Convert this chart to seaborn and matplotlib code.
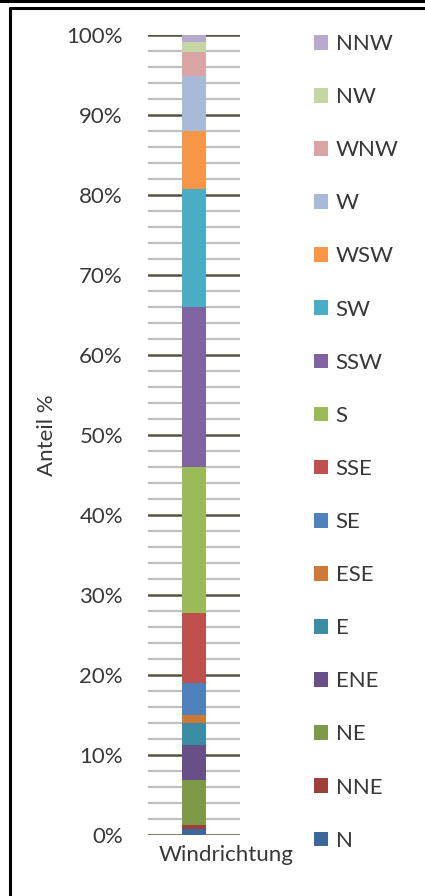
import matplotlib
matplotlib.use("Agg")
import matplotlib.pyplot as plt
import matplotlib.transforms as mtransforms
from matplotlib.patches import Patch
from matplotlib.lines import Line2D
import seaborn as sns
import numpy as np

# Anteile je Windrichtung (von unten nach oben gestapelt)
richtungen = ["N", "NNE", "NE", "ENE", "E", "ESE", "SE", "SSE",
              "S", "SSW", "SW", "WSW", "W", "WNW", "NW", "NNW"]
anteile = [0.7, 0.55, 5.65, 4.35, 2.7, 1.05, 3.95, 8.75,
           18.3, 20.0, 14.7, 7.3, 6.9, 3.0, 1.2, 0.9]
farben = ["#3C679A", "#9E3F3C", "#7E9A48", "#684F86", "#3A8DA3", "#CC7A36",
          "#4F81BD", "#C0504D", "#9BBB59", "#8064A2", "#4BACC6", "#F79646",
          "#A9B9D8", "#D9A5A4", "#C4D6A3", "#B7AACC"]
kategorie = "Windrichtung"
y_ticks = list(range(0, 101, 10))

sns.set_style("white")
plt.rcParams['font.family'] = ['Lato', 'DejaVu Sans']
fs = 16
txt = "#383838"

fig = plt.figure(figsize=(4.25, 8.96), dpi=100)
ax = fig.add_axes([148 / 425, 1 - 835 / 896, 92 / 425, 800 / 896])

# Stapelbalken
unten = 0.0
for r, a, c in zip(richtungen, anteile, farben):
    ax.bar(0, a, bottom=unten, width=0.26, color=c, label=r, zorder=3, linewidth=0)
    unten += a

ax.set_xlim(-0.5, 0.5)
ax.set_ylim(0, 100)
ax.set_yticks(y_ticks)
ax.set_yticklabels([f"{t}%" for t in y_ticks], fontsize=fs, color=txt)
ax.set_yticks(np.arange(0, 101, 2), minor=True)
ax.tick_params(axis="y", which="both", length=0, pad=18)
ax.grid(axis="y", which="minor", color="#C0C0C0", lw=1.6, zorder=0)
ax.grid(axis="y", which="major", color="#55533E", lw=1.8, zorder=1)
ax.set_xticks([0])
ax.set_xticklabels([kategorie], fontsize=fs, color=txt)
ax.tick_params(axis="x", length=0, pad=7)
offset = mtransforms.ScaledTranslation(32 / 100, 0, fig.dpi_scale_trans)
for lbl in ax.get_xticklabels():
    lbl.set_transform(lbl.get_transform() + offset)
for s in ax.spines.values():
    s.set_visible(False)
ax.set_ylabel("Anteil %", fontsize=fs, color=txt, labelpad=6.5)

# Legende (oben NNW, unten N)
handles = [Patch(facecolor=c, edgecolor="none", label=r)
           for r, c in zip(richtungen[::-1], farben[::-1])]
fig.legend(handles=handles, loc="upper left", bbox_to_anchor=(314 / 425, 1 - 34 / 896),
           frameon=False, fontsize=fs, labelcolor=txt,
           handlelength=0.64, handleheight=0.64, handletextpad=0.33,
           labelspacing=1.49, borderpad=0, borderaxespad=0)

# Rahmen
fig.add_artist(Line2D([0, 1], [1 - 1.5 / 896] * 2, color="black", lw=2.2))
fig.add_artist(Line2D([9.5 / 425, 1], [1 - 8.5 / 896] * 2, color="black", lw=2.2))
fig.add_artist(Line2D([9.5 / 425] * 2, [0, 1 - 8.5 / 896], color="black", lw=2.2))

fig.savefig("out.png", dpi=100)
